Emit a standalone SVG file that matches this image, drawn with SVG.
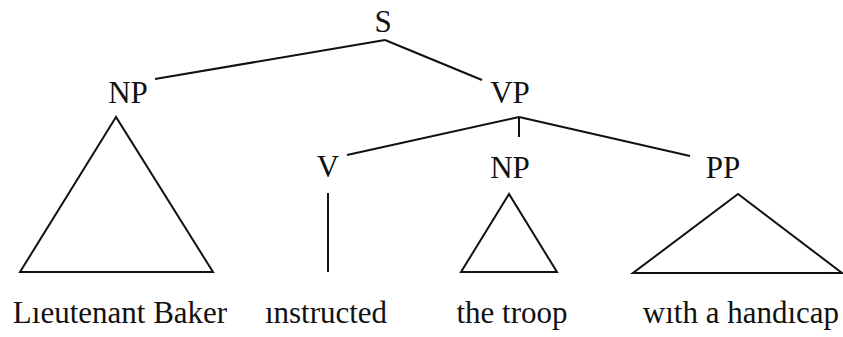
<svg xmlns="http://www.w3.org/2000/svg" width="843" height="337" viewBox="0 0 843 337">
<style>
text{font-family:"Liberation Serif","Times New Roman",serif;font-size:31px;fill:#111;text-anchor:middle}
.e{stroke:#111;stroke-width:2;fill:none;stroke-linejoin:miter}
</style>
<rect width="843" height="337" fill="#fff"/>
<g id="connectors">
<line class="e" x1="155" y1="79" x2="385" y2="40"/>
<line class="e" x1="385" y1="40" x2="482" y2="80"/>
<line class="e" x1="347" y1="155" x2="519" y2="117"/>
<line class="e" x1="519" y1="117" x2="519" y2="137"/>
<line class="e" x1="519" y1="117" x2="690" y2="156"/>
<line class="e" x1="328" y1="193" x2="328" y2="272"/>
<polygon class="e" points="116,117 20,272 213,272"/>
<polygon class="e" points="509,194 461,272 557,272"/>
<polygon class="e" points="738,194 633,273 842,273"/>
</g>
<g id="S"><text x="383" y="32">S</text></g>
<g id="NP1"><text x="128" y="103">NP</text></g>
<g id="VP"><text x="510" y="103">VP</text></g>
<g id="V"><text x="328" y="177">V</text></g>
<g id="NP2"><text x="510" y="178">NP</text></g>
<g id="PP"><text x="723" y="178">PP</text></g>
<g id="w1"><text x="120" y="323">Lıeutenant Baker</text></g>
<g id="w2"><text x="326" y="323">ınstructed</text></g>
<g id="w3"><text x="512" y="323">the troop</text></g>
<g id="w4"><text x="741" y="323">wıth a handıcap</text></g>
</svg>
